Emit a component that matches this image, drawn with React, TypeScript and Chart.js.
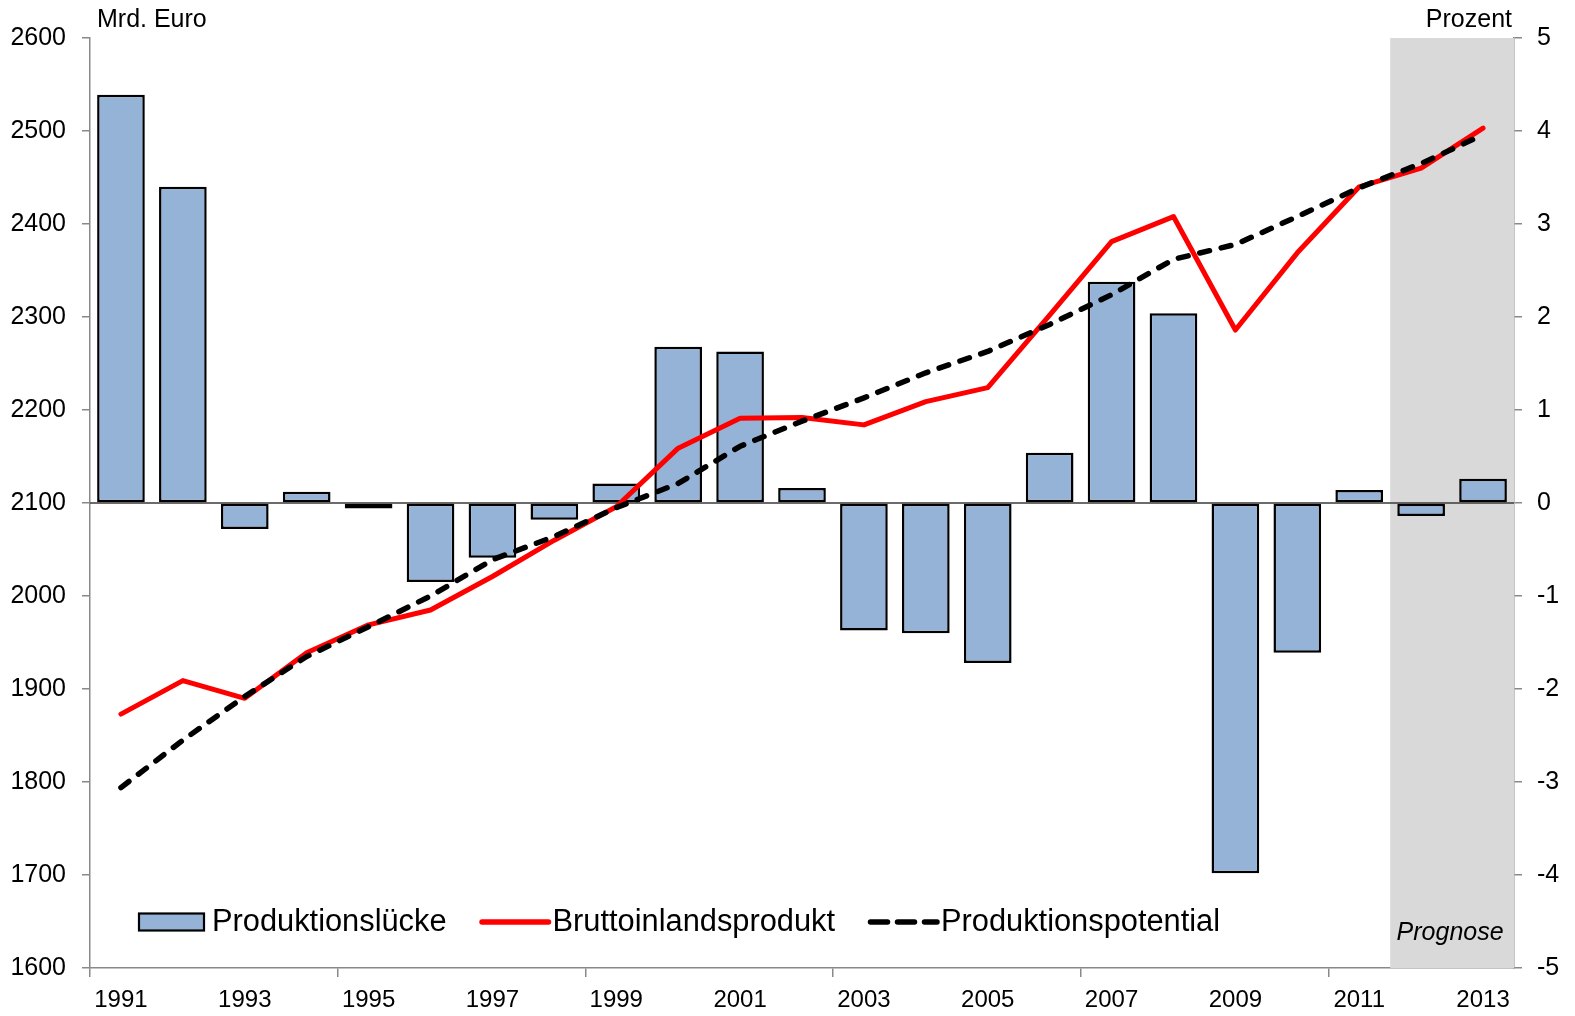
import React, { useEffect, useRef } from "react";
import { Chart, registerables } from "chart.js";

Chart.register(...registerables);

const years = [
  "1991", "1992", "1993", "1994", "1995", "1996", "1997", "1998", "1999", "2000",
  "2001", "2002", "2003", "2004", "2005", "2006", "2007", "2008", "2009", "2010",
  "2011", "2012", "2013",
];

// Produktionslücke in Prozent (right axis)
const produktionsluecke = [
  4.39, 3.4, -0.28, 0.12, -0.06, -0.85, -0.59, -0.18, 0.21, 1.68,
  1.63, 0.16, -1.37, -1.4, -1.72, 0.54, 2.38, 2.04, -3.98, -1.61,
  0.14, -0.14, 0.26,
];

// Bruttoinlandsprodukt in Mrd. Euro (left axis)
const bruttoinlandsprodukt = [
  1873, 1909, 1890, 1939, 1969, 1985, 2021, 2060, 2096, 2159,
  2191, 2192, 2184, 2209, 2224, 2302, 2381, 2408, 2286, 2369,
  2440, 2460, 2503,
];

// Produktionspotential in Mrd. Euro (left axis)
const produktionspotential = [
  1794, 1845, 1892, 1935, 1967, 2000, 2039, 2064, 2095, 2121,
  2161, 2188, 2213, 2240, 2263, 2292, 2324, 2362, 2378, 2408,
  2439, 2465, 2496,
];

const prognoseStartIndex = 21; // 2012
const leftAxisTitle = "Mrd. Euro";
const rightAxisTitle = "Prozent";
const prognoseLabel = "Prognose";

const FONT = "'Liberation Sans', Arial, Helvetica, sans-serif";
const BAR_COLOR = "#95B3D7";
const AXIS_COLOR = "#898989";

const overlayPlugin = {
  id: "overlay",
  beforeDatasetsDraw(chart: any) {
    const { ctx, chartArea, scales } = chart;
    const x = scales.x;
    const xStart =
      (x.getPixelForValue(prognoseStartIndex - 1) + x.getPixelForValue(prognoseStartIndex)) / 2;
    ctx.save();
    ctx.fillStyle = "#D9D9D9";
    ctx.fillRect(xStart, chartArea.top, chartArea.right - xStart, chartArea.bottom - chartArea.top);
    // zero line of the percent axis
    const y0 = scales.y1.getPixelForValue(0);
    ctx.strokeStyle = "#3a3a3a";
    ctx.lineWidth = 1.6;
    ctx.beginPath();
    ctx.moveTo(chartArea.left, y0);
    ctx.lineTo(chartArea.right, y0);
    ctx.stroke();
    // Prognose label
    ctx.fillStyle = "#000";
    ctx.font = `italic 25px ${FONT}`;
    ctx.textAlign = "center";
    ctx.textBaseline = "alphabetic";
    ctx.fillText(prognoseLabel, (xStart + chartArea.right) / 2 - 2, chartArea.bottom - 28);
    ctx.restore();
  },
  afterDraw(chart: any) {
    const { ctx, chartArea } = chart;
    ctx.save();
    // axis titles
    ctx.fillStyle = "#000";
    ctx.font = `25px ${FONT}`;
    ctx.textBaseline = "alphabetic";
    ctx.textAlign = "left";
    ctx.fillText(leftAxisTitle, chartArea.left + 7, 27);
    ctx.textAlign = "right";
    ctx.fillText(rightAxisTitle, chartArea.right - 2, 27);

    // legend
    const ds = chart.data.datasets;
    const ly = chartArea.bottom - 46;
    let lx = 139;
    const sampleW = 67;
    ctx.font = `30.8px ${FONT}`;
    ctx.textAlign = "left";
    ctx.textBaseline = "middle";
    const order = [0, 1, 2];
    for (const i of order) {
      const d = ds[i];
      if (d.type === "bar") {
        ctx.fillStyle = BAR_COLOR;
        ctx.fillRect(lx, ly - 8.5, sampleW - 2, 17);
        ctx.strokeStyle = "#000";
        ctx.lineWidth = 2.2;
        ctx.setLineDash([]);
        ctx.strokeRect(lx, ly - 8.5, sampleW - 2, 17);
      } else {
        ctx.strokeStyle = d.borderColor;
        ctx.lineWidth = 5.5;
        ctx.lineCap = "round";
        ctx.setLineDash(d.borderDash && d.borderDash.length ? [17, 10] : []);
        ctx.beginPath();
        ctx.moveTo(lx + 2.5, ly);
        ctx.lineTo(lx + sampleW + 2, ly);
        ctx.stroke();
        ctx.setLineDash([]);
      }
      ctx.fillStyle = "#000";
      const tx = lx + sampleW + 6;
      ctx.fillText(d.label, tx, ly + 1);
      lx = tx + ctx.measureText(d.label).width + 33;
    }
    ctx.restore();
  },
};

export default function App() {
  const canvasRef = useRef<HTMLCanvasElement | null>(null);

  useEffect(() => {
    if (!canvasRef.current) return;
    const chart = new Chart(canvasRef.current, {
      data: {
        labels: years,
        datasets: [
          {
            type: "bar",
            label: "Produktionslücke",
            data: produktionsluecke,
            yAxisID: "y1",
            backgroundColor: BAR_COLOR,
            borderColor: "#000",
            borderWidth: 2.5,
            borderSkipped: false,
            barPercentage: 0.77,
            categoryPercentage: 1,
            order: 2,
          },
          {
            type: "line",
            label: "Bruttoinlandsprodukt",
            data: bruttoinlandsprodukt,
            yAxisID: "y",
            borderColor: "#FF0000",
            backgroundColor: "#FF0000",
            borderWidth: 5,
            pointRadius: 0,
            tension: 0,
            borderCapStyle: "round",
            borderJoinStyle: "round",
            order: 1,
          },
          {
            type: "line",
            label: "Produktionspotential",
            data: produktionspotential,
            yAxisID: "y",
            borderColor: "#000000",
            backgroundColor: "#000000",
            borderWidth: 5.5,
            borderDash: [10, 12],
            pointRadius: 0,
            tension: 0,
            borderCapStyle: "round",
            borderJoinStyle: "round",
            order: 0,
          },
        ],
      } as any,
      options: {
        animation: false,
        responsive: true,
        maintainAspectRatio: false,
        layout: { padding: { top: 38, left: 0, right: 0, bottom: 0 } },
        plugins: {
          legend: { display: false },
          tooltip: { enabled: false },
          title: { display: false },
        },
        scales: {
          x: {
            type: "category",
            offset: true,
            grid: {
              offset: true,
              drawOnChartArea: false,
              drawTicks: true,
              tickLength: 9,
              lineWidth: 1.5,
              color: (c: any) => (c.index % 4 === 0 ? AXIS_COLOR : "rgba(0,0,0,0)"),
            },
            border: { display: true, color: AXIS_COLOR, width: 1.5 },
            ticks: {
              autoSkip: false,
              maxRotation: 0,
              minRotation: 0,
              padding: 9,
              color: "#000",
              font: { family: FONT, size: 24 },
              callback: (_v: any, i: number) => (i % 2 === 0 ? years[i] : ""),
            },
            afterFit: (s: any) => {
              s.height = 48;
            },
          },
          y: {
            type: "linear",
            position: "left",
            min: 1600,
            max: 2600,
            grid: {
              drawOnChartArea: false,
              drawTicks: true,
              tickLength: 8,
              color: AXIS_COLOR,
              lineWidth: 1.5,
            },
            border: { display: true, color: AXIS_COLOR, width: 1.5 },
            ticks: {
              stepSize: 100,
              padding: 16,
              color: "#000",
              font: { family: FONT, size: 25 },
              callback: (v: any) => String(v),
            },
            afterFit: (s: any) => {
              s.width = 90;
            },
          },
          y1: {
            type: "linear",
            position: "right",
            min: -5,
            max: 5,
            grid: {
              drawOnChartArea: false,
              drawTicks: true,
              tickLength: 8,
              color: AXIS_COLOR,
              lineWidth: 1.5,
            },
            border: { display: true, color: AXIS_COLOR, width: 1.5 },
            ticks: {
              stepSize: 1,
              padding: 15,
              color: "#000",
              font: { family: FONT, size: 25 },
              callback: (v: any) => String(v),
            },
            afterFit: (s: any) => {
              s.width = 61;
            },
          },
        },
      } as any,
      plugins: [overlayPlugin],
    });
    return () => chart.destroy();
  }, []);

  return (
    <div
      style={{
        position: "absolute",
        left: 0,
        top: 0,
        width: 1575,
        height: 1016,
        background: "#fff",
      }}
    >
      <canvas ref={canvasRef} />
    </div>
  );
}
